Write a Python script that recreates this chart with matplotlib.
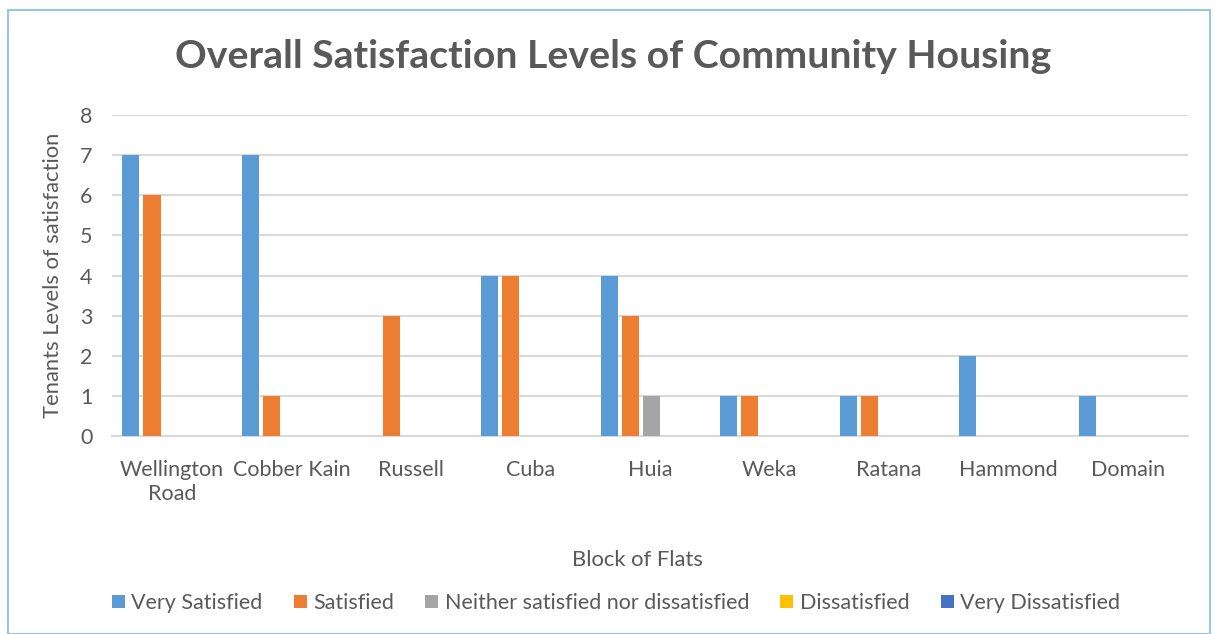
import numpy as np
import matplotlib.pyplot as plt
from matplotlib.patches import Rectangle

blocks = ['Wellington\nRoad', 'Cobber Kain', 'Russell', 'Cuba', 'Huia',
          'Weka', 'Ratana', 'Hammond', 'Domain']
series = ['Very Satisfied', 'Satisfied', 'Neither satisfied nor dissatisfied',
          'Dissatisfied', 'Very Dissatisfied']
very_satisfied = [7, 7, 0, 4, 4, 1, 1, 2, 1]
satisfied = [6, 1, 3, 4, 3, 1, 1, 0, 0]
neither = [0, 0, 0, 0, 1, 0, 0, 0, 0]
dissatisfied = [0, 0, 0, 0, 0, 0, 0, 0, 0]
very_dissatisfied = [0, 0, 0, 0, 0, 0, 0, 0, 0]
colors = ['#5B9BD5', '#ED7D31', '#A5A5A5', '#FFC000', '#4472C4']

plt.rcParams['font.family'] = ['Lato', 'DejaVu Sans']
text_col = '#595959'

fig = plt.figure(figsize=(12.15, 6.34), dpi=100)
fig.patches.append(Rectangle((8 / 1215, 0), 1202 / 1215, 1 - 10 / 634,
                             transform=fig.transFigure, fill=False,
                             edgecolor='#9DC3E6', linewidth=1.5))

ax = fig.add_axes([0.0922, 0.3123, 0.8856, 0.5063])
x = np.arange(len(blocks))
pitch = 0.176
width = 0.143
all_vals = [very_satisfied, satisfied, neither, dissatisfied, very_dissatisfied]
for i, (name, vals) in enumerate(zip(series, all_vals)):
    ax.bar(x + (i - 2) * pitch + 0.01, vals, width, color=colors[i], label=name,
           zorder=3)

ax.set_xlim(-0.5, len(blocks) - 0.5)
ax.set_ylim(0, 8)
ax.set_yticks(range(0, 9))
ax.yaxis.grid(True, color='#D9D9D9', linewidth=1.5, zorder=0)
for s in ['top', 'right', 'left']:
    ax.spines[s].set_visible(False)
ax.spines['bottom'].set_color('#D9D9D9')
ax.spines['bottom'].set_linewidth(1.5)
ax.tick_params(axis='both', length=0, colors=text_col, labelsize=15.5)
ax.tick_params(axis='x', pad=17)
ax.tick_params(axis='y', pad=14)
ax.set_xticks(x)
ax.set_xticklabels(blocks, linespacing=1.3)

fig.text(0.505, 1 - 57 / 634, 'Overall Satisfaction Levels of Community Housing',
         fontsize=28.3, fontweight='bold', color=text_col, ha='center',
         va='center')
ax.set_ylabel('Tenants Levels of satisfaction', fontsize=15.8, color=text_col,
              labelpad=12)
fig.text(0.525, 1 - 560 / 634, 'Block of Flats', fontsize=15.8, color=text_col,
         ha='center', va='center')

fig.legend(loc='center', bbox_to_anchor=(0.507, 1 - 603 / 634), ncol=5,
           frameon=False, fontsize=15.5, handlelength=0.6, handleheight=0.6,
           handletextpad=0.3, columnspacing=1.45, labelcolor=text_col)

fig.savefig('out.png', dpi=100)
